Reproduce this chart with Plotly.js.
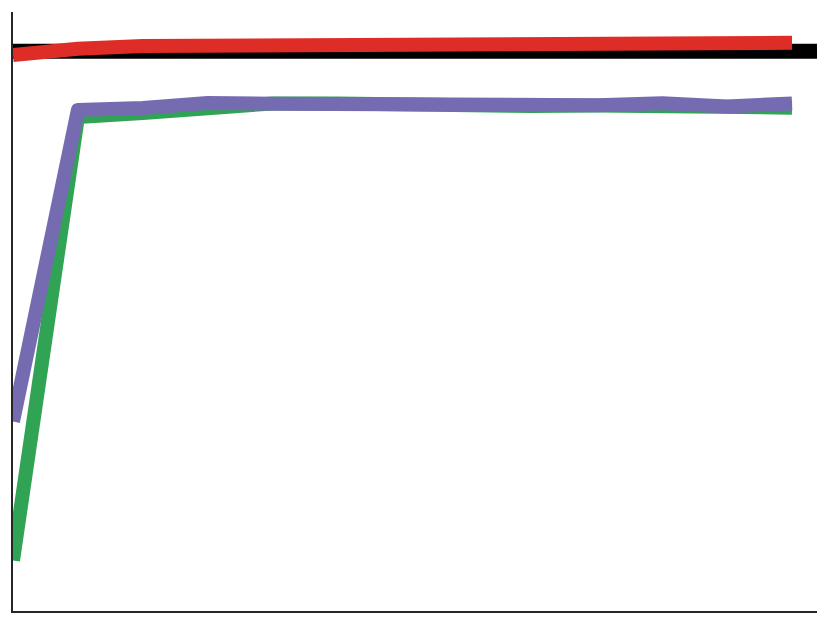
<!DOCTYPE html>
<html>
<head>
<meta charset="utf-8">
<script src="https://cdn.plot.ly/plotly-3.0.1.min.js"></script>
<style>
html,body{margin:0;padding:0;background:#fff;}
#chart{width:830px;height:625px;}
.js-line{stroke-linejoin:round;}
</style>
</head>
<body>
<div id="chart"></div>
<script>
// x positions (steps)
const steps = [0,1,2,3,4,5,6,7,8,9,10,11,12];
const baselineX = [0, 12.385];
const baselineY = [1.0, 1.0];
const redSeries = [0.9932,1.0045,1.0093,1.0102,1.0129,1.0141,1.0147,1.0159,1.0170,1.0159,1.0134,1.0159,1.0150];
const greenSeries = [0.0902,0.8825,0.8896,0.8994,0.9066,0.9066,0.9039,0.9012,0.9021,0.9030,0.9030,0.9048,0.8991];
const purpleSeries = [0.3385,0.8950,0.8985,0.9075,0.9062,0.9051,0.9030,0.9039,0.9039,0.9035,0.9069,0.9012,0.9066];

const W = 14;
const traces = [
  {x: baselineX, y: baselineY, mode: 'lines', line: {color: '#000000', width: 15}, hoverinfo: 'skip'},
  {x: steps, y: redSeries, mode: 'lines', line: {color: '#de2d26', width: W}},
  {x: steps, y: greenSeries, mode: 'lines', line: {color: '#31a354', width: W}},
  {x: steps, y: purpleSeries, mode: 'lines', line: {color: '#756bb1', width: W}}
];

const layout = {
  width: 830, height: 625,
  margin: {l: 13, r: 13, t: 12, b: 14, pad: 0},
  paper_bgcolor: '#ffffff', plot_bgcolor: '#ffffff',
  showlegend: false,
  xaxis: {range: [0, 12.385], showgrid: false, zeroline: false, showticklabels: false, ticks: '',
          showline: true, linecolor: '#262626', linewidth: 2},
  yaxis: {range: [0, 1.07], showgrid: false, zeroline: false, showticklabels: false, ticks: '',
          showline: true, linecolor: '#262626', linewidth: 2}
};

Plotly.newPlot('chart', traces, layout, {displayModeBar: false, staticPlot: true});
</script>
</body>
</html>
